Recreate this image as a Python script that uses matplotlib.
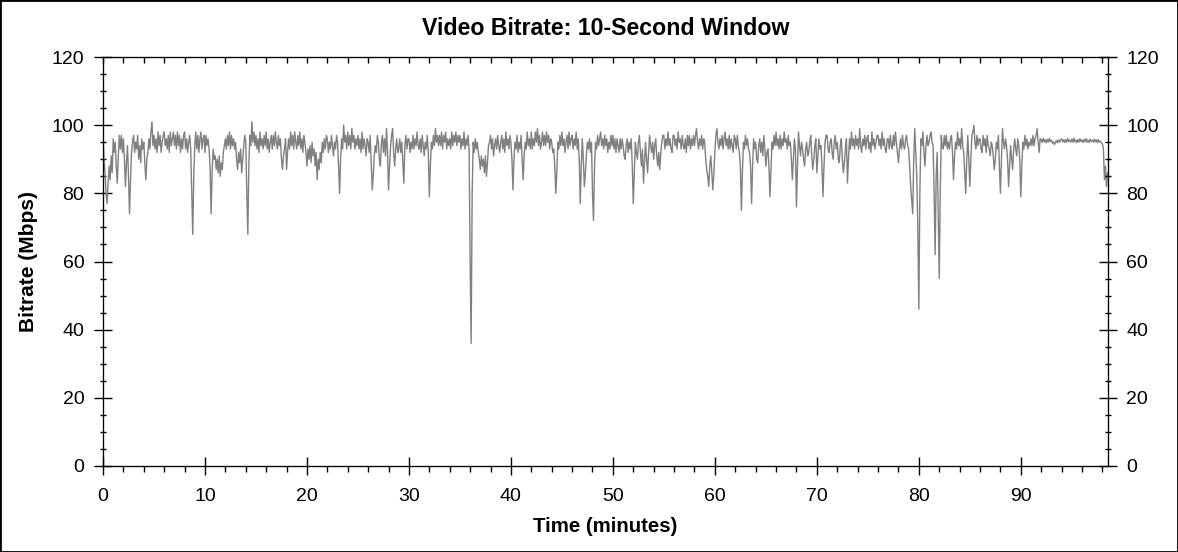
import numpy as np
import matplotlib.pyplot as plt
from matplotlib.patches import Rectangle
from matplotlib.ticker import MultipleLocator

plt.rcParams["font.family"] = ["Liberation Sans", "DejaVu Sans"]

# bitrate samples (Mbps), one every 0.1 minutes
step = 0.1
bitrate_00 = [97, 90, 86, 80, 77, 83, 88, 84, 91, 86,
              96, 92, 95, 88, 83, 91, 97, 93, 97, 92,
              96, 90, 82, 89, 94, 85, 74, 84, 92, 95,
              97, 92, 95, 93, 97, 90, 94, 89, 96, 93,
              95, 89, 84, 90, 92, 96, 93, 98, 101, 94,
              97, 93, 96, 92, 98, 94, 97, 92, 95, 97,
              98, 94, 96, 93, 97, 92, 98, 94, 96, 98,
              94, 97, 93, 98, 94, 97, 92, 96, 93, 97,
              98, 93, 96, 92, 95, 97, 93, 80, 68, 85,
              94, 98, 93, 97, 92, 96, 98, 93, 96, 97]
bitrate_10 = [92, 97, 94, 96, 93, 88, 74, 86, 93, 90,
              91, 87, 90, 86, 91, 85, 89, 87, 92, 94,
              96, 93, 97, 94, 98, 93, 97, 94, 96, 93,
              95, 90, 87, 92, 89, 93, 86, 90, 94, 97,
              95, 80, 68, 88, 97, 94, 101, 95, 98, 94,
              97, 93, 96, 92, 98, 94, 96, 93, 97, 94,
              98, 93, 96, 92, 95, 97, 93, 97, 94, 98,
              95, 93, 97, 94, 96, 90, 87, 91, 93, 96,
              87, 92, 96, 93, 98, 94, 97, 93, 98, 95,
              93, 97, 94, 98, 93, 96, 92, 97, 95, 92]
bitrate_20 = [88, 93, 90, 94, 89, 95, 91, 93, 88, 92,
              84, 90, 87, 92, 89, 95, 92, 96, 93, 97,
              96, 92, 95, 93, 97, 94, 91, 95, 93, 97,
              95, 88, 80, 90, 96, 93, 100, 95, 97, 93,
              98, 94, 97, 93, 99, 95, 97, 93, 96, 94,
              97, 93, 96, 92, 98, 93, 96, 94, 91, 96,
              95, 92, 97, 89, 81, 85, 91, 94, 92, 97,
              95, 90, 88, 95, 97, 92, 96, 91, 99, 92,
              81, 88, 94, 97, 99, 92, 88, 93, 96, 92,
              93, 96, 92, 95, 89, 83, 94, 97, 93, 96]
bitrate_30 = [96, 92, 95, 93, 97, 93, 96, 94, 98, 94,
              93, 96, 92, 97, 94, 91, 95, 93, 97, 92,
              79, 88, 95, 93, 97, 94, 99, 95, 97, 94,
              97, 94, 98, 93, 97, 95, 98, 93, 96, 94,
              96, 93, 98, 94, 97, 95, 98, 94, 97, 95,
              97, 93, 96, 94, 98, 93, 96, 94, 97, 93,
              60, 36, 80, 95, 92, 96, 93, 95, 92, 90,
              87, 91, 88, 90, 86, 91, 85, 89, 94, 95,
              97, 93, 96, 91, 94, 96, 93, 97, 94, 92,
              95, 97, 93, 96, 92, 98, 94, 96, 93, 97]
bitrate_40 = [95, 90, 81, 90, 95, 93, 97, 92, 95, 93,
              97, 90, 84, 91, 95, 93, 98, 94, 96, 93,
              98, 93, 96, 94, 98, 95, 99, 94, 97, 93,
              95, 98, 94, 97, 94, 98, 95, 97, 93, 96,
              95, 92, 93, 88, 80, 86, 95, 93, 97, 94,
              98, 94, 96, 92, 95, 97, 93, 98, 94, 96,
              97, 93, 96, 94, 98, 93, 96, 90, 77, 88,
              96, 90, 82, 86, 91, 95, 93, 96, 92, 95,
              80, 72, 88, 95, 93, 97, 94, 96, 98, 94,
              96, 93, 97, 94, 96, 92, 95, 93, 97, 94]
bitrate_50 = [97, 93, 96, 92, 96, 94, 92, 96, 93, 96,
              94, 91, 90, 94, 96, 92, 95, 93, 96, 88,
              77, 86, 95, 92, 90, 95, 97, 92, 88, 93,
              83, 89, 95, 90, 86, 92, 97, 94, 92, 95,
              90, 94, 96, 91, 88, 92, 87, 92, 95, 97,
              97, 93, 96, 94, 98, 94, 96, 93, 92, 97,
              97, 94, 96, 93, 98, 95, 96, 93, 97, 94,
              93, 96, 92, 97, 94, 97, 93, 96, 94, 97,
              94, 97, 99, 95, 93, 96, 94, 97, 93, 96,
              95, 90, 87, 85, 82, 88, 91, 86, 81, 86]
bitrate_60 = [92, 97, 99, 95, 93, 96, 94, 97, 93, 96,
              98, 94, 96, 93, 97, 93, 96, 94, 92, 97,
              96, 93, 97, 94, 92, 88, 75, 86, 95, 93,
              97, 94, 96, 93, 92, 88, 77, 88, 96, 93,
              95, 90, 89, 94, 96, 92, 95, 91, 97, 93,
              88, 92, 93, 88, 79, 87, 95, 93, 97, 94,
              98, 94, 96, 93, 97, 93, 96, 94, 98, 95,
              96, 93, 97, 94, 95, 90, 84, 90, 96, 93,
              76, 88, 98, 94, 91, 95, 93, 90, 88, 93,
              95, 91, 92, 95, 97, 91, 87, 90, 94, 96]
bitrate_70 = [86, 91, 96, 93, 94, 88, 79, 88, 95, 97,
              97, 93, 92, 95, 96, 92, 90, 95, 97, 93,
              95, 90, 89, 94, 96, 90, 86, 89, 93, 96,
              83, 90, 96, 93, 98, 94, 96, 93, 97, 94,
              96, 93, 99, 94, 92, 96, 94, 97, 93, 96,
              97, 93, 95, 92, 98, 94, 96, 93, 95, 97,
              97, 94, 96, 93, 98, 94, 96, 93, 92, 96,
              96, 93, 97, 94, 93, 97, 94, 98, 95, 92,
              89, 93, 96, 93, 97, 94, 93, 96, 97, 94,
              93, 88, 82, 78, 74, 90, 99, 92, 85, 70]
bitrate_80 = [46, 80, 96, 94, 98, 92, 88, 94, 97, 94,
              95, 97, 98, 95, 94, 80, 62, 85, 92, 75,
              55, 80, 97, 94, 93, 97, 94, 97, 93, 95,
              93, 96, 97, 92, 84, 91, 95, 93, 98, 94,
              96, 93, 99, 94, 92, 86, 80, 90, 97, 90,
              82, 90, 97, 98, 100, 95, 93, 97, 94, 96,
              96, 93, 92, 97, 94, 96, 92, 97, 94, 93,
              91, 95, 94, 91, 87, 90, 95, 93, 97, 88,
              80, 90, 99, 95, 93, 96, 94, 90, 82, 88,
              94, 90, 87, 93, 96, 93, 91, 96, 94, 90]
bitrate_90 = [79, 88, 95, 93, 97, 94, 96, 93, 95, 94,
              96, 94, 97, 94, 96, 97, 99, 95, 92, 96,
              95.8, 94.9, 96.2, 95.1, 95.7, 94.8, 95.9, 95.0, 96.1, 95.2,
              95.6, 94.7, 95.1, 94.3, 94.9, 95.5, 94.8, 95.6, 95.0, 95.8,
              96.0, 95.1, 95.7, 94.9, 95.8, 95.0, 96.1, 95.2, 95.6, 95.0,
              95.9, 95.0, 96.2, 95.1, 95.6, 94.9, 95.8, 95.0, 96.0, 95.2,
              95.7, 94.9, 95.8, 95.1, 96.1, 95.0, 95.6, 94.9, 95.9, 95.2,
              95.6, 95.0, 95.9, 95.1, 95.7, 94.9, 95.8, 95.0, 95.3, 94.8,
              94.5, 93, 84, 88, 82, 86]

bitrate = np.array(bitrate_00 + bitrate_10 + bitrate_20 + bitrate_30 + bitrate_40 +
                   bitrate_50 + bitrate_60 + bitrate_70 + bitrate_80 + bitrate_90)
minutes = np.arange(len(bitrate)) * step

fig = plt.figure(figsize=(11.78, 5.52), dpi=100)
ax = fig.add_axes([103/1178, 86/552, 1005/1178, 409/552])

ax.plot(minutes, bitrate, color='#808080', lw=1.0)

ax.set_xlim(0, 98.55)
ax.set_ylim(0, 120)
ax.xaxis.set_major_locator(MultipleLocator(10))
ax.xaxis.set_minor_locator(MultipleLocator(2))
ax.yaxis.set_major_locator(MultipleLocator(20))
ax.yaxis.set_minor_locator(MultipleLocator(5))
ax.tick_params(which='major', direction='inout', length=13, width=1, labelsize=14)
ax.tick_params(axis='x', which='major', pad=9)
ax.tick_params(axis='y', which='major', pad=7)
ax.tick_params(which='minor', direction='inout', length=5, width=1)
ax.tick_params(axis='x', which='minor', direction='out', length=4)

# right axis copy
axr = ax.twinx()
axr.set_ylim(0, 120)
axr.yaxis.set_major_locator(MultipleLocator(20))
axr.yaxis.set_minor_locator(MultipleLocator(5))
axr.tick_params(which='major', direction='inout', length=13, width=1, labelsize=14, pad=6.5)
axr.tick_params(which='minor', direction='inout', length=5, width=1)

# top axis minor ticks pointing inward
axt = ax.twiny()
axt.set_xlim(0, 98.55)
axt.xaxis.set_major_locator(MultipleLocator(10))
axt.xaxis.set_minor_locator(MultipleLocator(2))
axt.tick_params(which='major', direction='in', length=4, width=1, labeltop=False)
axt.tick_params(which='minor', direction='in', length=4, width=1)

ax.set_title('Video Bitrate: 10-Second Window', fontsize=16.7, fontweight='bold', pad=16)
ax.set_xlabel('Time (minutes)', fontsize=14.7, fontweight='bold', labelpad=9)
ax.set_ylabel('Bitrate (Mbps)', fontsize=15, fontweight='bold', labelpad=10)

fig.patches.append(Rectangle((0, 0), 1, 1, transform=fig.transFigure, fill=False,
                             edgecolor='black', lw=2))

plt.savefig('out.png', dpi=100)
